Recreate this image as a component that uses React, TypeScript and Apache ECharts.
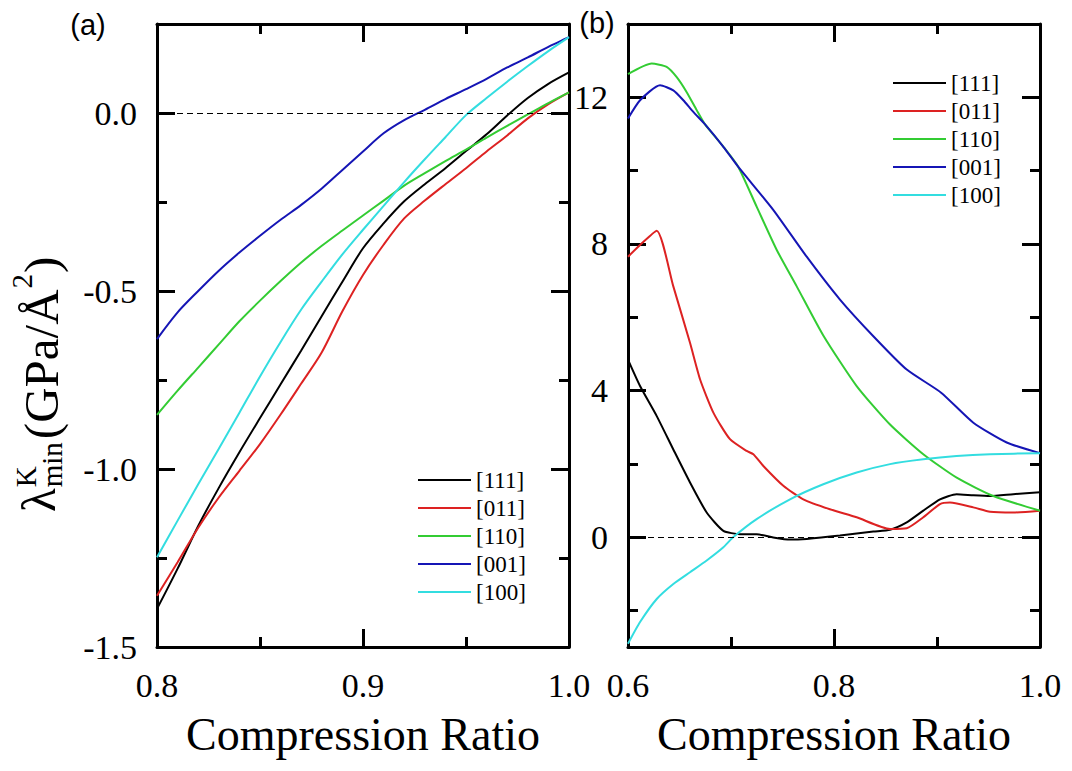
import React, { useEffect, useRef } from 'react';
import * as echarts from 'echarts';

// ---------- data ----------
const seriesNames = ['[111]', '[011]', '[110]', '[001]', '[100]'];
const seriesColors = ['#000000', '#dd2222', '#33cc33', '#1515b5', '#33dde0'];

// panel (a): compression ratio 0.80 .. 1.00
const xA = [0.80, 0.81, 0.82, 0.83, 0.84, 0.85, 0.86, 0.87, 0.88, 0.89, 0.90, 0.91, 0.92, 0.93, 0.94, 0.95, 0.96, 0.97, 0.98, 0.99, 1.00];
const a111 = [-1.393, -1.28, -1.16, -1.053, -0.953, -0.857, -0.762, -0.667, -0.57, -0.474, -0.38, -0.31, -0.248, -0.2, -0.155, -0.107, -0.06, -0.007, 0.042, 0.082, 0.114];
const a011 = [-1.356, -1.262, -1.165, -1.08, -1.005, -0.93, -0.847, -0.76, -0.672, -0.557, -0.455, -0.37, -0.296, -0.246, -0.2, -0.155, -0.108, -0.063, -0.015, 0.025, 0.058];
const a110 = [-0.848, -0.78, -0.715, -0.65, -0.585, -0.527, -0.472, -0.42, -0.373, -0.33, -0.288, -0.246, -0.204, -0.169, -0.135, -0.103, -0.069, -0.036, -0.004, 0.028, 0.058];
const a001 = [-0.635, -0.56, -0.5, -0.443, -0.392, -0.345, -0.3, -0.258, -0.212, -0.16, -0.108, -0.057, -0.02, 0.009, 0.039, 0.067, 0.096, 0.128, 0.156, 0.186, 0.213];
const a100 = [-1.248, -1.145, -1.043, -0.943, -0.842, -0.74, -0.643, -0.552, -0.473, -0.397, -0.328, -0.261, -0.194, -0.13, -0.068, -0.006, 0.042, 0.088, 0.132, 0.174, 0.213];

// panel (b): [compression ratio, value]
const b111 = [[0.6, 4.84], [0.6117, 4.12], [0.6279, 3.3], [0.644, 2.39], [0.6602, 1.49], [0.6764, 0.67], [0.6926, 0.17], [0.7087, 0.08], [0.7249, 0.08], [0.741, -0.01], [0.7573, -0.07], [0.7735, -0.05], [0.8058, 0.04], [0.8382, 0.15], [0.8544, 0.2], [0.8706, 0.4], [0.8867, 0.72], [0.9029, 1.03], [0.919, 1.17], [0.9353, 1.14], [0.9515, 1.12], [0.974, 1.17], [1.0, 1.22]];
const b011 = [[0.6, 7.65], [0.6117, 7.97], [0.6279, 8.36], [0.644, 6.84], [0.6602, 5.3], [0.67, 4.3], [0.683, 3.39], [0.699, 2.67], [0.7152, 2.35], [0.7217, 2.26], [0.7314, 1.94], [0.7508, 1.4], [0.7702, 1.03], [0.796, 0.76], [0.822, 0.54], [0.8544, 0.22], [0.8706, 0.24], [0.8867, 0.54], [0.9029, 0.9], [0.9126, 0.94], [0.9353, 0.81], [0.9515, 0.69], [0.974, 0.67], [1.0, 0.72]];
const b110 = [[0.6, 12.63], [0.623, 12.92], [0.6375, 12.83], [0.6473, 12.55], [0.657, 12.14], [0.6667, 11.65], [0.6748, 11.26], [0.6926, 10.65], [0.7071, 10.1], [0.725, 9.01], [0.7443, 7.84], [0.7638, 6.84], [0.7896, 5.5], [0.822, 4.12], [0.8544, 3.07], [0.8867, 2.26], [0.9191, 1.62], [0.9547, 1.12], [1.0, 0.72]];
const b001 = [[0.6, 11.42], [0.6117, 11.92], [0.6311, 12.33], [0.644, 12.19], [0.6537, 11.92], [0.6634, 11.6], [0.6748, 11.26], [0.6926, 10.65], [0.7071, 10.1], [0.741, 8.93], [0.7735, 7.65], [0.8058, 6.48], [0.8382, 5.48], [0.8706, 4.57], [0.904, 3.94], [0.9353, 3.12], [0.9677, 2.58], [1.0, 2.29]];
const b100 = [[0.6, -2.91], [0.6117, -2.32], [0.6279, -1.69], [0.644, -1.28], [0.6602, -0.96], [0.6764, -0.64], [0.6926, -0.28], [0.7023, 0.0], [0.7249, 0.49], [0.7573, 1.03], [0.7896, 1.44], [0.822, 1.76], [0.8544, 1.99], [0.8867, 2.12], [0.919, 2.21], [0.9515, 2.26], [1.0, 2.29]];

// ticks / labels
const xALabels = [0.8, 0.9, 1.0];
const xAMajor = [0.9];
const xAMinor = [0.85, 0.95];
const yALabels = [-1.5, -1.0, -0.5, 0.0];
const yAMajor = [-1.0, -0.5, 0.0];
const yAMinor = [-1.25, -0.75, -0.25];
const xBLabels = [0.6, 0.8, 1.0];
const xBMajor = [0.8];
const xBMinor = [0.7, 0.9];
const yBLabels = [0, 4, 8, 12];
const yBMajor = [0, 4, 8, 12];
const yBMinor = [-2, 2, 6, 10];

const SERIF = '"Liberation Serif", "Times New Roman", Times, serif';
const SANS = '"Liberation Sans", Arial, sans-serif';

const frame = { color: '#000', width: 3 };

function axisSet(
  dim: 'x' | 'y',
  grid: number,
  min: number,
  max: number,
  labels: number[],
  majors: number[],
  minors: number[],
  fmt: (v: number) => string,
  name?: string
) {
  const base: any = { type: 'value', gridIndex: grid, min, max, splitLine: { show: false } };
  const pos1 = dim === 'x' ? 'bottom' : 'left';
  const pos2 = dim === 'x' ? 'top' : 'right';
  const main: any = {
    ...base,
    position: pos1,
    axisLine: { show: true, onZero: false, lineStyle: frame },
    axisTick: { show: true, inside: true, length: 18, lineStyle: frame, customValues: majors },
    axisLabel: {
      show: true,
      customValues: labels,
      formatter: fmt,
      fontFamily: SERIF,
      fontSize: 34,
      color: '#000',
      margin: dim === 'x' ? 21 : 20,
    },
  };
  if (name) {
    main.name = name;
    main.nameLocation = 'middle';
    main.nameGap = 64;
    main.nameTextStyle = { fontFamily: SERIF, fontSize: 46, color: '#000' };
  }
  const minor = (p: string) => ({
    ...base,
    position: p,
    axisLine: { show: false, onZero: false },
    axisTick: { show: true, inside: true, length: 10, lineStyle: frame, customValues: minors },
    axisLabel: { show: false },
  });
  const other = {
    ...base,
    position: pos2,
    axisLine: { show: true, onZero: false, lineStyle: frame },
    axisTick: { show: true, inside: true, length: 18, lineStyle: frame, customValues: majors },
    axisLabel: { show: false },
  };
  return [main, minor(pos1), other, minor(pos2)];
}

function measure(text: string, size: number, family: string) {
  const ctx = document.createElement('canvas').getContext('2d')!;
  ctx.font = `${size}px ${family}`;
  return ctx.measureText(text).width;
}

function yNameGraphic() {
  const M = 49;
  const S = 29;
  const fM = `${M}px ${SERIF}`;
  const fS = `${S}px ${SERIF}`;
  const wL = measure('λ', M, SERIF);
  const wK = measure('K', S, SERIF);
  const wMin = measure('min', S, SERIF);
  const wMain = measure('(GPa/Å', M, SERIF);
  const w2 = measure('2', S, SERIF);
  const x1 = wL + 1;
  const x2 = x1 + Math.max(wK, wMin) + 3;
  const x3 = x2 + wMain + 1;
  const x4 = x3 + w2 + 1;
  const t = (text: string, x: number, y: number, font: string) => ({
    type: 'text',
    style: { text, x, y, font, fill: '#000', align: 'left', verticalAlign: 'middle' },
  });
  return {
    type: 'group',
    x: 41,
    y: 512,
    rotation: Math.PI / 2,
    children: [
      t('λ', 0, -3, fM),
      t('K', x1, -15, fS),
      t('min', x1, 11, fS),
      t('(GPa/Å', x2, 0, fM),
      t('2', x3, -19, fS),
      t(')', x4, 0, fM),
    ],
  };
}

export default function App() {
  const ref = useRef<HTMLDivElement>(null);
  useEffect(() => {
    document.body.style.margin = '0';
    const chart = echarts.init(ref.current!, null, { renderer: 'svg' });

    const aData = [a111, a011, a110, a001, a100];
    const bData = [b111, b011, b110, b001, b100];
    const zeroLine = {
      silent: true,
      symbol: ['none', 'none'],
      label: { show: false },
      lineStyle: { color: '#000', type: [6, 4], width: 1 },
      data: [{ yAxis: 0 }],
    };

    const series: any[] = [];
    seriesNames.forEach((n, i) => {
      series.push({
        name: n,
        type: 'line',
        xAxisIndex: 0,
        yAxisIndex: 0,
        data: xA.map((x, k) => [x, aData[i][k]]),
        showSymbol: false,
        symbol: 'none',
        smooth: 0.3,
        lineStyle: { color: seriesColors[i], width: 2 },
        itemStyle: { color: seriesColors[i] },
        z: 3,
        ...(i === 0 ? { markLine: zeroLine } : {}),
      });
    });
    seriesNames.forEach((n, i) => {
      series.push({
        name: n,
        type: 'line',
        xAxisIndex: 4,
        yAxisIndex: 4,
        data: bData[i],
        showSymbol: false,
        symbol: 'none',
        smooth: 0.2,
        lineStyle: { color: seriesColors[i], width: 2 },
        itemStyle: { color: seriesColors[i] },
        z: 3,
        ...(i === 0 ? { markLine: zeroLine } : {}),
      });
    });

    const legendBase = {
      data: seriesNames,
      orient: 'vertical',
      icon: 'rect',
      itemWidth: 53,
      itemHeight: 2,
      itemGap: 0,
      padding: 0,
      selectedMode: false,
      textStyle: { fontFamily: SERIF, fontSize: 23, color: '#000', lineHeight: 28 },
    };

    const option: any = {
      animation: false,
      backgroundColor: '#fff',
      grid: [
        { left: 157, top: 24, width: 412, height: 623, outerBoundsMode: 'none' },
        { left: 628, top: 24, width: 412, height: 623, outerBoundsMode: 'none' },
      ],
      xAxis: [
        ...axisSet('x', 0, 0.8, 1.0, xALabels, xAMajor, xAMinor, (v) => v.toFixed(1), 'Compression Ratio'),
        ...axisSet('x', 1, 0.6, 1.0, xBLabels, xBMajor, xBMinor, (v) => v.toFixed(1), 'Compression Ratio'),
      ],
      yAxis: [
        ...axisSet('y', 0, -1.5, 0.25, yALabels, yAMajor, yAMinor, (v) => v.toFixed(1)),
        ...axisSet('y', 1, -3, 14, yBLabels, yBMajor, yBMinor, (v) => String(v)),
      ],
      legend: [
        { ...legendBase, left: 418, top: 466 },
        { ...legendBase, left: 893, top: 69 },
      ],
      series,
      graphic: [
        {
          type: 'text',
          x: 88,
          y: 25,
          style: { text: '(a)', font: `29px ${SANS}`, fill: '#000', align: 'center', verticalAlign: 'middle' },
        },
        {
          type: 'text',
          x: 597,
          y: 23,
          style: { text: '(b)', font: `29px ${SANS}`, fill: '#000', align: 'center', verticalAlign: 'middle' },
        },
        yNameGraphic(),
      ],
    };
    chart.setOption(option);
    return () => chart.dispose();
  }, []);
  return <div ref={ref} style={{ width: 1072, height: 771 }} />;
}
